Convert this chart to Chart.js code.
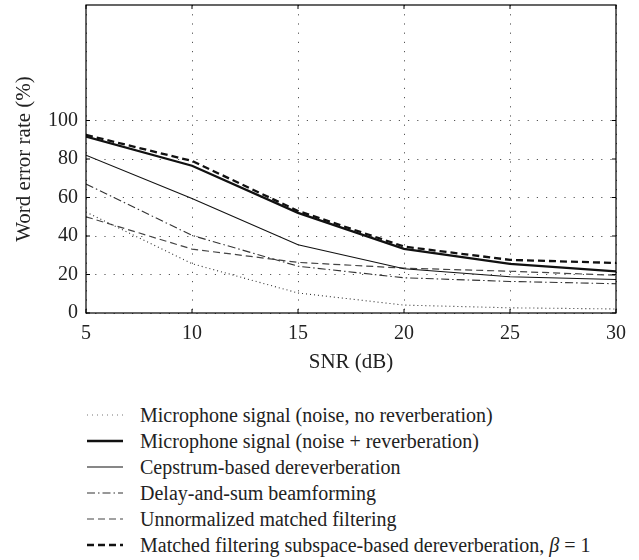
<!DOCTYPE html>
<html lang="en">
<head>
  <meta charset="UTF-8" />
  <title>Word error rate vs SNR</title>
  <style>
    body { margin: 0; background: #fff; font-family: "Liberation Serif", Tinos, "Times New Roman", "DejaVu Serif", serif; }
    #wrap { position: relative; width: 639px; height: 560px; overflow: hidden; }
    #chart-box { position: absolute; left: 0; top: 0; width: 639px; height: 385px; }
    #legend { position: absolute; left: 87px; top: 402px; }
    .row { height: 26px; display: flex; align-items: center; font-size: 20px; color: #222; white-space: nowrap; }
    .row svg { width: 36px; height: 10px; margin-right: 17px; flex: none; }
  </style>
</head>
<body>
<div id="wrap">
  <div id="chart-box"><canvas id="werChart"></canvas></div>
  <div id="legend"></div>
</div>

<script src="https://cdn.jsdelivr.net/npm/chart.js"></script>
<script>
  // SNR steps (dB) and word error rates (%)
  const snr = [5, 10, 15, 20, 25, 30];
  const xTicks = [5, 10, 15, 20, 25, 30];
  const yTicks = [0, 20, 40, 60, 80, 100];

  const micClean     = [52.5, 25.6, 10.4, 4.1, 2.7, 2.1];
  const micReverb    = [91.6, 76.5, 52.0, 33.3, 25.5, 21.6];
  const cepstrum     = [82.0, 59.5, 35.5, 23.0, 18.8, 17.4];
  const delaySum     = [67.0, 40.3, 24.3, 18.3, 16.4, 15.2];
  const unnormMF     = [50.0, 33.2, 26.3, 23.3, 21.7, 19.6];
  const subspaceMF   = [92.5, 79.0, 53.0, 34.5, 27.6, 26.0];

  const labels = [
    'Microphone signal (noise, no reverberation)',
    'Microphone signal (noise + reverberation)',
    'Cepstrum-based dereverberation',
    'Delay-and-sum beamforming',
    'Unnormalized matched filtering',
    'Matched filtering subspace-based dereverberation, <i>β</i> = 1'
  ];

  const styles = [
    { color: '#333', width: 1.1, dash: [1, 3] },
    { color: '#111', width: 2.3, dash: [] },
    { color: '#111', width: 1.1, dash: [] },
    { color: '#333', width: 1.1, dash: [8, 3, 1.5, 3] },
    { color: '#444', width: 1.2, dash: [7, 4] },
    { color: '#111', width: 2.3, dash: [7, 4] }
  ];

  const series = [micClean, micReverb, cepstrum, delaySum, unnormMF, subspaceMF];

  const datasets = series.map((vals, i) => ({
    label: labels[i],
    data: vals.map((v, k) => ({ x: snr[k], y: v })),
    borderColor: styles[i].color,
    borderWidth: styles[i].width,
    borderDash: styles[i].dash,
    pointRadius: 0,
    tension: 0,
    fill: false
  }));

  // full box around the plot area plus short inward tick marks
  const frame = {
    id: 'frame',
    afterDatasetsDraw(chart) {
      const { ctx, chartArea: a, scales } = chart;
      ctx.save();
      ctx.strokeStyle = '#000';
      ctx.lineWidth = 1.2;
      ctx.setLineDash([]);
      ctx.strokeRect(a.left, a.top, a.right - a.left, a.bottom - a.top);
      ctx.lineWidth = 1;
      ctx.beginPath();
      xTicks.forEach(v => {
        const px = scales.x.getPixelForValue(v);
        ctx.moveTo(px, a.bottom); ctx.lineTo(px, a.bottom - 4);
        ctx.moveTo(px, a.top); ctx.lineTo(px, a.top + 4);
      });
      yTicks.forEach(v => {
        const py = scales.y.getPixelForValue(v);
        ctx.moveTo(a.left, py); ctx.lineTo(a.left + 4, py);
        ctx.moveTo(a.right, py); ctx.lineTo(a.right - 4, py);
      });
      ctx.stroke();
      ctx.restore();
    }
  };

  const serif = '"Liberation Serif", Tinos, "Times New Roman", "DejaVu Serif", serif';

  new Chart(document.getElementById('werChart'), {
    type: 'line',
    data: { datasets },
    plugins: [frame],
    options: {
      responsive: true,
      maintainAspectRatio: false,
      animation: false,
      layout: { padding: { left: 0, right: 23, top: 5, bottom: 0 } },
      plugins: { legend: { display: false }, tooltip: { enabled: false } },
      scales: {
        x: {
          type: 'linear',
          min: 5, max: 30,
          afterBuildTicks(scale) { scale.ticks = xTicks.map(v => ({ value: v })); },
          afterFit(scale) { scale.height = 72; },
          ticks: { color: '#222', padding: 9, font: { family: serif, size: 20 } },
          grid: { color: '#555', lineWidth: 1, drawTicks: false },
          border: { display: false, dash: [1.2, 8] },
          title: { display: true, text: 'SNR (dB)', color: '#222',
                   font: { family: serif, size: 21 }, padding: { bottom: 10 } }
        },
        y: {
          min: 0, max: 160,
          afterBuildTicks(scale) { scale.ticks = yTicks.map(v => ({ value: v })); },
          afterFit(scale) { scale.width = 86; scale.paddingTop = 0; scale.paddingBottom = 0; },
          ticks: { color: '#222', padding: 8, font: { family: serif, size: 20 } },
          grid: { color: '#555', lineWidth: 1, drawTicks: false },
          border: { display: false, dash: [1.2, 8] },
          title: { display: true, text: 'Word error rate (%)', color: '#222',
                   font: { family: serif, size: 21 }, padding: { top: 12 } }
        }
      }
    }
  });

  // legend rows with line samples
  const legend = document.getElementById('legend');
  labels.forEach((txt, i) => {
    const s = styles[i];
    const row = document.createElement('div');
    row.className = 'row';
    const dash = i === 0 ? '1 4' : (s.dash.length ? s.dash.join(' ') : 'none');
    const col = i === 0 ? '#777' : s.color;
    row.innerHTML =
      `<svg viewBox="0 0 36 10"><line x1="0" y1="5" x2="36" y2="5" stroke="${col}" ` +
      `stroke-width="${s.width}" stroke-dasharray="${dash}"/></svg><span>${txt}</span>`;
    legend.appendChild(row);
  });
</script>
</body>
</html>
